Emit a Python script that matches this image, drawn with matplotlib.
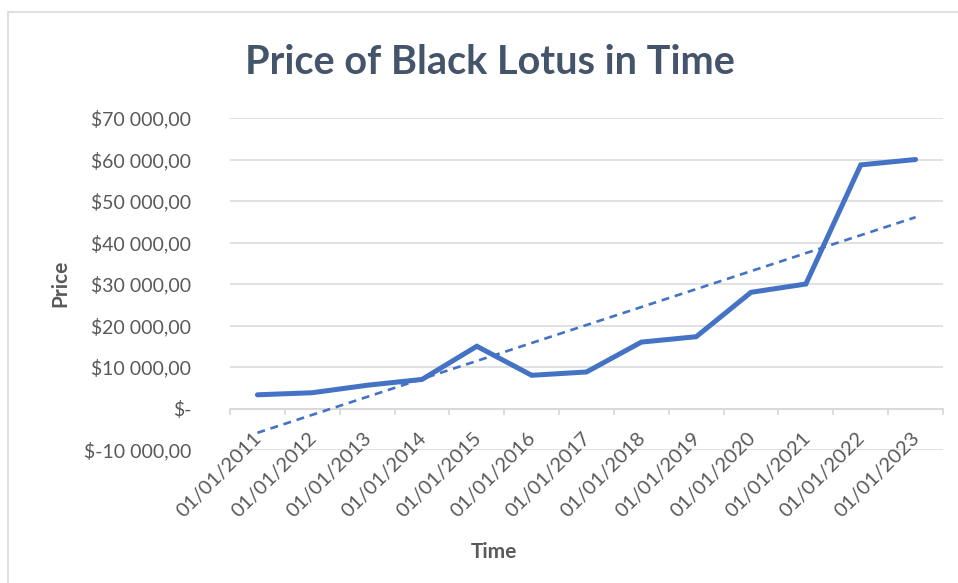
import numpy as np
import matplotlib
matplotlib.use("Agg")
import matplotlib.pyplot as plt
from matplotlib.ticker import FuncFormatter
import matplotlib.transforms as mtransforms

# ----------------- DATOS -----------------
dates = ["01/01/2011", "01/01/2012", "01/01/2013", "01/01/2014", "01/01/2015",
         "01/01/2016", "01/01/2017", "01/01/2018", "01/01/2019", "01/01/2020",
         "01/01/2021", "01/01/2022", "01/01/2023"]
prices = [3300, 3800, 5600, 7000, 15000, 8000, 8800, 16000, 17300,
          28000, 30000, 58700, 60000]
y_ticks = [-10000, 0, 10000, 20000, 30000, 40000, 50000, 60000, 70000]

title_color = "#44546A"
text_color = "#595959"
grid_color = "#D9D9D9"
line_color = "#4472C4"

plt.rcParams['font.family'] = ['Lato', 'DejaVu Sans']


def money(v, pos=None):
    if v == 0:
        return "$-"
    s = f"{abs(v):,.2f}".replace(",", " ").replace(".", ",")
    return ("$-" if v < 0 else "$") + s


x = np.arange(len(dates))
# linea de tendencia lineal (como Excel)
coef = np.polyfit(x + 1, prices, 1)
trend = np.polyval(coef, x + 1)

fig = plt.figure(figsize=(9.58, 5.83), dpi=100)
ax = fig.add_axes([230 / 958, 1 - 450 / 583, 713 / 958, 332 / 583])

# borde del grafico
fig.patches.append(plt.Rectangle((8 / 958, -0.01), 1.0, 1 - 12 / 583 + 0.01,
                                 transform=fig.transFigure, fill=False,
                                 edgecolor="#D9D9D9", lw=1.2))

ax.plot(x, prices, color=line_color, lw=3.6, solid_capstyle="round",
        solid_joinstyle="miter", zorder=3)
ax.plot(x, trend, color=line_color, lw=1.9, linestyle=(0, (3, 2.2)), zorder=3)

ax.set_xlim(-0.5, len(dates) - 0.5)
ax.set_ylim(y_ticks[0], y_ticks[-1])
ax.set_yticks(y_ticks)
ax.yaxis.set_major_formatter(FuncFormatter(money))
ax.grid(axis="y", color=grid_color, lw=1.1)
ax.set_axisbelow(True)
for s in ax.spines.values():
    s.set_visible(False)
ax.tick_params(axis="y", length=0, labelsize=14, labelcolor=text_color, pad=28)

# eje de categorias en y = 0
ax.axhline(0, color=grid_color, lw=1.3, zorder=2)
ax.set_xticks([])
for b in np.arange(-0.5, len(dates), 1.0):
    ax.plot([b, b], [0, -1300], color=grid_color, lw=1.3, zorder=2,
            clip_on=False)

trans = mtransforms.blended_transform_factory(ax.transData, ax.transAxes)
for i, d in enumerate(dates):
    ax.text(i + 0.03, 0.045, d, transform=trans, rotation=45,
            rotation_mode="anchor", ha="right", va="center",
            fontsize=14.5, color=text_color)

fig.text(494 / 958, 1 - 552 / 583, "Time", ha="center", va="center",
         fontsize=15, fontweight="bold", color=text_color)
fig.text(60 / 958, 1 - 283 / 583, "Price", ha="center", va="center",
         rotation=90, fontsize=15, fontweight="bold", color=text_color)
fig.text(490 / 958, 1 - 62 / 583, "Price of Black Lotus in Time",
         ha="center", va="center", fontsize=28.5, fontweight="bold",
         color=title_color)

fig.savefig("out.png", dpi=100)
